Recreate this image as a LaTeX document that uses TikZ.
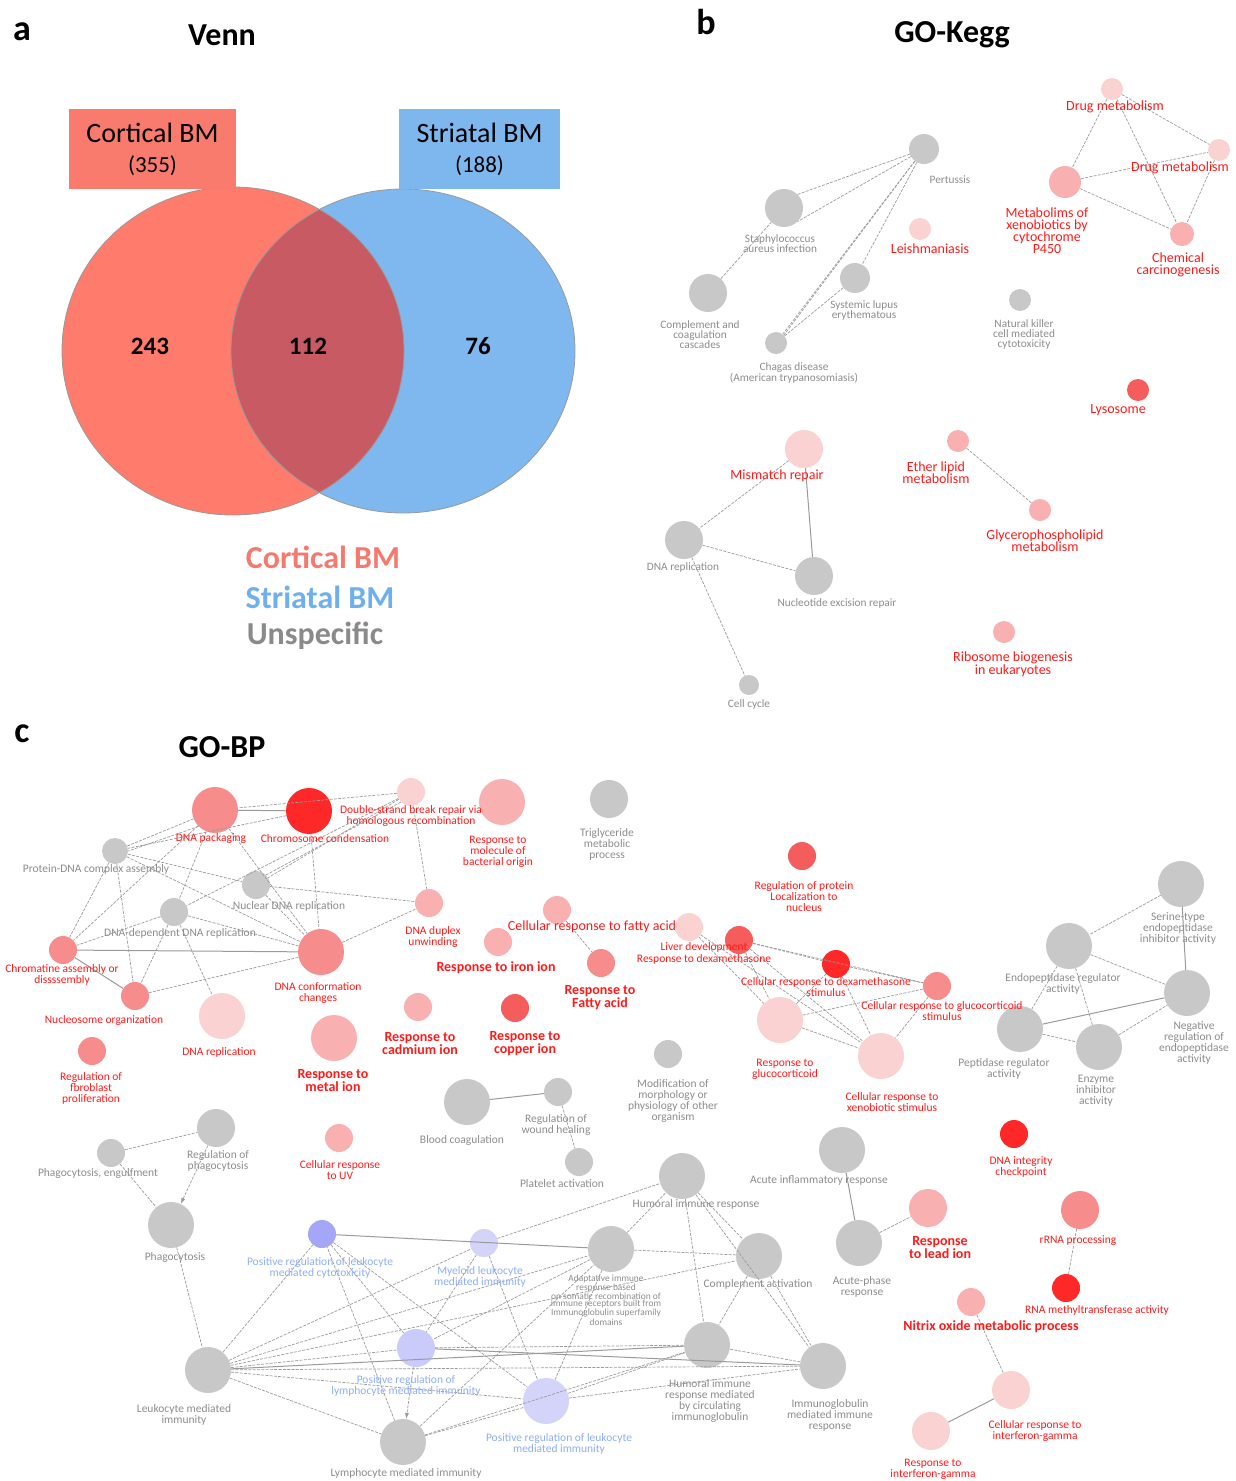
\documentclass[tikz,border=0pt]{standalone}
\usepackage{fontspec}
\setmainfont{Carlito}
\usetikzlibrary{arrows.meta}
\definecolor{vred}{HTML}{FF7B6C}
\definecolor{vblue}{HTML}{7EB8EE}
\definecolor{vmix}{HTML}{C85A64}
\definecolor{boxred}{HTML}{F97B6D}
\definecolor{boxblue}{HTML}{7EB6EE}
\definecolor{leg red}{HTML}{F47A70}
\definecolor{leg blue}{HTML}{6FB0EC}
\definecolor{leg gray}{HTML}{8A8A8A}
\definecolor{ngray}{HTML}{C8C8C8}
\definecolor{pk1}{HTML}{FAD2D2}
\definecolor{pk2}{HTML}{F8B0B0}
\definecolor{pk3}{HTML}{F68C8C}
\definecolor{pk4}{HTML}{F55C5C}
\definecolor{pk5}{HTML}{FF2828}
\definecolor{bl1}{HTML}{A4A6F8}
\definecolor{bl2}{HTML}{D4D4FA}
\definecolor{edgegray}{HTML}{9A9A9A}
\definecolor{txgray}{HTML}{8C8C8C}
\definecolor{txred}{HTML}{FF1A1A}
\definecolor{txblue}{HTML}{8CAEF5}
\begin{document}
\begin{tikzpicture}[x=1pt,y=-1pt,
  nd/.style={circle,minimum size=#1,inner sep=0pt},
  gn/.style={nd=#1,fill=ngray},
  ed/.style={draw=edgegray,line width=0.7pt,dash pattern=on 3pt off 1.3pt},
  sed/.style={draw=edgegray,line width=1pt},
  kg/.style={text=txgray,align=center,inner sep=0pt,font=\fontsize{11.3}{10}\selectfont},
  kr/.style={text=txred,align=center,inner sep=0pt,font=\fontsize{14}{12}\selectfont},
  cg/.style={text=txgray,align=center,inner sep=0pt,font=\fontsize{11.5}{11}\selectfont},
  cr/.style={text=txred,align=center,inner sep=0pt,font=\fontsize{11.5}{11}\selectfont},
  cb/.style={text=txred,align=center,inner sep=0pt,font=\bfseries\fontsize{14}{13}\selectfont},
  cbl/.style={text=txblue,align=center,inner sep=0pt,font=\fontsize{11.5}{11}\selectfont},
  panel/.style={font=\bfseries\fontsize{36}{36}\selectfont},
  ttl/.style={font=\bfseries\fontsize{32}{32}\selectfont}]
\useasboundingbox (0,0) rectangle (1236,1481);
% panel titles
\node[panel] (pa) at (22,32) {a};
\node[ttl] (ta) at (222,35) {Venn};
\node[panel] (pb) at (706,22) {b};
\node[ttl] (tb) at (952,35) {GO-Kegg};
\node[panel] (pc) at (22,734) {c};
\node[ttl] (tc) at (222,747) {GO-BP};

% a: venn
\fill[vred] (233,351) ellipse[x radius=171,y radius=164];
\fill[vblue] (403,351) ellipse[x radius=172,y radius=162];
\begin{scope}
\clip (233,351) ellipse[x radius=171,y radius=164];
\fill[vmix] (403,351) ellipse[x radius=172,y radius=162];
\end{scope}
\draw[gray!80,line width=0.8pt] (233,351) ellipse[x radius=171,y radius=164];
\draw[gray!80,line width=0.8pt] (403,351) ellipse[x radius=172,y radius=162];
\node[fill=boxred,minimum width=167,minimum height=80,align=center,inner sep=0pt,
  font=\fontsize{28}{33}\selectfont] (cbox) at (152.5,149) {Cortical BM\\[-3pt]{\fontsize{23}{24}\selectfont(355)}};
\node[fill=boxblue,minimum width=161,minimum height=80,align=center,inner sep=0pt,
  font=\fontsize{28}{33}\selectfont] (sbox) at (479.5,149) {Striatal BM\\[-3pt]{\fontsize{23}{24}\selectfont(188)}};
\node[font=\bfseries\fontsize{25}{25}\selectfont] (n243) at (150,346) {243};
\node[font=\bfseries\fontsize{25}{25}\selectfont] (n112) at (308,346) {112};
\node[font=\bfseries\fontsize{25}{25}\selectfont] (n76) at (478,346) {76};
\node[text=leg red,font=\bfseries\fontsize{32}{32}\selectfont] (lc) at (323,557) {Cortical BM};
\node[text=leg blue,font=\bfseries\fontsize{32}{32}\selectfont] (ls) at (320,597) {Striatal BM};
\node[text=leg gray,font=\bfseries\fontsize{32}{32}\selectfont] (lu) at (315,636) {Unspecific};

% b: kegg network
\node[gn=30] (pert) at (924,149) {};
\node[gn=38] (staph) at (784,208) {};
\node[gn=38] (compc) at (708,293) {};
\node[gn=30] (lupus) at (855,278) {};
\node[gn=22] (chagas) at (776,343) {};
\node[nd=22,fill=pk1] (leish) at (920,229) {};
\node[nd=22,fill=pk1] (drug1) at (1112,89) {};
\node[nd=22,fill=pk1] (drug2) at (1219,150) {};
\node[nd=32,fill=pk2] (xeno450) at (1065,182) {};
\node[nd=24,fill=pk2] (chem) at (1182,234) {};
\node[gn=22] (nkc) at (1020,300) {};
\node[nd=22,fill=pk4] (lyso) at (1138,390) {};
\node[nd=38,fill=pk1] (mism) at (804,449) {};
\node[nd=22,fill=pk2] (ether) at (958,441) {};
\node[nd=22,fill=pk2] (glyc) at (1040,510) {};
\node[gn=38] (kdrep) at (684,540) {};
\node[gn=38] (nucex) at (814,576) {};
\node[nd=22,fill=pk2] (ribo) at (1004,632) {};
\node[gn=20] (ccyc) at (749,685) {};
\draw[ed] (pert) -- (staph.north east);
\draw[ed] (pert) -- (staph.south east);
\draw[ed] (pert) -- (chagas);
\draw[ed] (pert) -- (chagas.north east);
\draw[ed] (pert) -- (lupus);
\draw[ed] (lupus) -- (chagas);
\draw[ed] (compc) -- (staph);
\draw[ed] (drug1) -- (xeno450);
\draw[ed] (drug1) -- (chem);
\draw[ed] (drug1) -- (drug2);
\draw[ed] (xeno450) -- (drug2);
\draw[ed] (xeno450) -- (chem);
\draw[ed] (drug2) -- (chem);
\draw[ed] (mism) -- (kdrep);
\draw[sed] (mism) -- (nucex);
\draw[ed] (kdrep) -- (nucex);
\draw[ed] (kdrep) -- (ccyc);
\draw[ed] (ether) -- (glyc);
\node[kg] (l-pert) at (950,180) {Pertussis};
\node[kg] (l-staph) at (780,244) {Staphylococcus\\aureus infection};
\node[kg] (l-compc) at (700,335) {Complement and\\coagulation\\cascades};
\node[kg] (l-lupus) at (864,310) {Systemic lupus\\erythematous};
\node[kg] (l-chagas) at (794,373) {Chagas disease\\(American trypanosomiasis)};
\node[kr] (l-leish) at (930,249) {Leishmaniasis};
\node[kr] (l-drug1) at (1115,107) {Drug metabolism};
\node[kr] (l-drug2) at (1180,168) {Drug metabolism};
\node[kr] (l-xeno450) at (1047,231) {Metabolims of\\xenobiotics by\\cytochrome\\P450};
\node[kr] (l-chem) at (1178,265) {Chemical\\carcinogenesis};
\node[kg] (l-nkc) at (1024,334) {Natural killer\\cell mediated\\cytotoxicity};
\node[kr] (l-lyso) at (1118,410) {Lysosome};
\node[kr] (l-mism) at (777,476) {Mismatch repair};
\node[kr] (l-ether) at (936,473) {Ether lipid\\metabolism};
\node[kr] (l-glyc) at (1045,541) {Glycerophospholipid\\metabolism};
\node[kg] (l-kdrep) at (683,567) {DNA replication};
\node[kg] (l-nucex) at (837,603) {Nucleotide excision repair};
\node[kr] (l-ribo) at (1013,664) {Ribosome biogenesis\\in eukaryotes};
\node[kg] (l-ccyc) at (749,704) {Cell cycle};

% c: biological process network
\node[nd=46,fill=pk3] (pack) at (215,810) {};
\node[nd=46,fill=pk5] (chrom) at (309,811) {};
\node[nd=28,fill=pk1] (dsb) at (411,792) {};
\node[nd=46,fill=pk2] (bact) at (502,802) {};
\node[gn=38] (trig) at (609,799) {};
\node[gn=26] (pdna) at (115,851) {};
\node[gn=28] (ndna) at (256,885) {};
\node[gn=28] (ddna) at (174,912) {};
\node[nd=28,fill=pk2] (dupl) at (429,903) {};
\node[nd=46,fill=pk3] (conf) at (321,952) {};
\node[nd=28,fill=pk3] (chrm) at (63,950) {};
\node[nd=28,fill=pk3] (nucl) at (135,996) {};
\node[nd=46,fill=pk1] (drep) at (222,1016) {};
\node[nd=28,fill=pk3] (fibro) at (92,1051) {};
\node[nd=46,fill=pk2] (metal) at (334,1038) {};
\node[nd=28,fill=pk2] (cadm) at (418,1007) {};
\node[nd=28,fill=pk4] (copp) at (515,1008) {};
\node[nd=28,fill=pk2] (iron) at (498,942) {};
\node[nd=28,fill=pk2] (cfat) at (557,910) {};
\node[nd=28,fill=pk3] (rfat) at (601,963) {};
\node[nd=28,fill=pk1] (liver) at (689,927) {};
\node[nd=28,fill=pk4] (dexa) at (739,940) {};
\node[nd=28,fill=pk4] (prot) at (802,856) {};
\node[nd=28,fill=pk5] (cdexa) at (836,964) {};
\node[nd=28,fill=pk3] (cgluc) at (937,986) {};
\node[nd=46,fill=pk1] (rgluc) at (780,1020) {};
\node[nd=46,fill=pk1] (xeno) at (881,1056) {};
\node[gn=46] (serine) at (1181,884) {};
\node[gn=46] (endo) at (1069,946) {};
\node[gn=46] (negr) at (1187,993) {};
\node[gn=46] (pept) at (1020,1029) {};
\node[gn=46] (enzy) at (1099,1047) {};
\node[gn=28] (modif) at (668,1054) {};
\node[gn=46] (blood) at (467,1102) {};
\node[gn=28] (wound) at (558,1092) {};
\node[gn=28] (plat) at (579,1162) {};
\node[gn=28] (engulf) at (111,1153) {};
\node[gn=38] (regph) at (216,1128) {};
\node[gn=46] (phago) at (171,1225) {};
\node[nd=28,fill=pk2] (uv) at (339,1138) {};
\node[gn=46] (humor) at (682,1176) {};
\node[gn=46] (acute) at (842,1150) {};
\node[nd=28,fill=pk5] (integ) at (1014,1134) {};
\node[nd=38,fill=pk2] (lead) at (928,1208) {};
\node[nd=38,fill=pk3] (rrna) at (1080,1210) {};
\node[gn=46] (aphase) at (859,1243) {};
\node[nd=28,fill=pk5] (rnam) at (1066,1288) {};
\node[nd=28,fill=pk2] (nitrix) at (971,1302) {};
\node[nd=28,fill=bl1] (cytox) at (322,1234) {};
\node[nd=28,fill=bl2] (myel) at (484,1243) {};
\node[gn=46] (adapt) at (611,1249) {};
\node[gn=46] (compl) at (759,1256) {};
\node[nd=38,fill=bl2!80!bl1] (lymreg) at (416,1348) {};
\node[gn=46] (hcirc) at (707,1345) {};
\node[gn=46] (igm) at (823,1366) {};
\node[gn=46] (leuk) at (208,1370) {};
\node[nd=46,fill=bl2] (leukreg) at (546,1401) {};
\node[gn=46] (lymph) at (403,1442) {};
\node[nd=38,fill=pk1] (cifn) at (1011,1390) {};
\node[nd=38,fill=pk1] (rifn) at (931,1431) {};

% c: connectors
\draw[sed] (pack) -- (chrom);
\draw[ed] (pack) -- (pdna);
\draw[ed] (pack.south west) -- (pdna.east);
\draw[ed] (chrom) -- (pdna);
\draw[ed] (pack) -- (conf);
\draw[ed] (pack) -- (ddna);
\draw[ed] (pack) -- (chrm);
\draw[ed] (chrom) -- (conf);
\draw[ed] (dsb) -- (ndna);
\draw[ed] (dsb.south west) -- (ndna.north east);
\draw[ed] (dsb) -- (ddna);
\draw[ed] (dsb) -- (dupl);
\draw[ed] (dsb) -- (pack);
\draw[ed] (pdna) -- (chrm);
\draw[ed] (pdna) -- (nucl);
\draw[ed] (pdna) -- (ndna);
\draw[ed] (pdna) -- (conf);
\draw[ed] (ndna) -- (dupl);
\draw[ed] (ndna) -- (conf);
\draw[ed] (ddna) -- (conf);
\draw[ed] (ddna) -- (chrm);
\draw[ed] (ddna) -- (nucl);
\draw[ed] (ddna) -- (drep);
\draw[sed] (chrm) -- (conf);
\draw[sed] (chrm) -- (nucl);
\draw[ed] (nucl) -- (conf);
\draw[ed] (conf) -- (dupl);
\draw[ed] (cfat) -- (rfat);
\draw[ed] (dexa) -- (cdexa);
\draw[ed] (dexa) -- (cgluc);
\draw[ed] (dexa) -- (rgluc);
\draw[ed] (dexa) -- (xeno);
\draw[ed] (liver) -- (rgluc);
\draw[ed] (liver) -- (xeno);
\draw[ed] (cdexa) -- (cgluc);
\draw[ed] (cdexa) -- (rgluc);
\draw[ed] (cdexa) -- (xeno);
\draw[ed] (cgluc) -- (rgluc);
\draw[ed] (cgluc) -- (xeno);
\draw[ed] (rgluc) -- (xeno);
\draw[ed] (serine) -- (endo);
\draw[sed] (serine) -- (negr);
\draw[ed] (endo) -- (negr);
\draw[ed] (endo) -- (pept);
\draw[ed] (endo) -- (enzy);
\draw[sed] (pept) -- (negr);
\draw[ed] (pept) -- (enzy);
\draw[ed] (enzy) -- (negr);
\draw[sed] (blood) -- (wound);
\draw[ed] (wound) -- (plat);
\draw[ed] (engulf) -- (regph);
\draw[ed] (engulf) -- (phago);
\draw[ed,-{Latex[length=6pt,width=4pt]}] (regph) -- (phago);
\draw[ed] (phago) -- (leuk);
\draw[sed] (acute) -- (aphase);
\draw[ed] (aphase) -- (lead);
\draw[ed] (rrna) -- (rnam);
\draw[ed] (nitrix) -- (cifn);
\draw[sed] (cifn) -- (rifn);
\draw[ed] (leuk) -- (lymph);
\draw[ed] (leuk) -- (cytox);
\draw[ed] (leuk) -- (myel);
\draw[ed] (leuk) -- (adapt);
\draw[ed] (leuk) -- (lymreg);
\draw[ed] (leuk) -- (leukreg);
\draw[sed] (leuk) -- (hcirc);
\draw[ed] (leuk) -- (igm);
\draw[ed] (leuk) -- (compl);
\draw[ed,-{Latex[length=6pt,width=4pt]}] (lymreg) -- (lymph);
\draw[ed] (lymph) -- (adapt);
\draw[ed] (lymph) -- (leukreg);
\draw[ed] (lymph) -- (hcirc);
\draw[ed] (lymph) -- (cytox);
\draw[sed] (cytox) -- (adapt);
\draw[ed] (cytox) -- (leukreg);
\draw[ed] (cytox) -- (lymreg);
\draw[ed] (myel) -- (humor);
\draw[ed] (myel) -- (lymreg);
\draw[ed] (myel) -- (leukreg);
\draw[ed] (adapt) -- (compl);
\draw[ed] (adapt) -- (humor);
\draw[ed] (adapt) -- (lymreg);
\draw[ed] (adapt) -- (leukreg);
\draw[ed] (humor) -- (compl);
\draw[ed] (humor) -- (hcirc);
\draw[ed] (humor) -- (igm);
\draw[ed] (compl) -- (hcirc);
\draw[ed] (compl) -- (igm);
\draw[ed] (hcirc) -- (igm);
\draw[sed] (lymreg) -- (igm);
\draw[ed] (lymreg) -- (hcirc);
\draw[ed] (leukreg) -- (hcirc);
\draw[ed] (leukreg) -- (igm);

% c: labels
\node[cr] (l-pack) at (211,838) {DNA packaging};
\node[cr] (l-chrom) at (325,839) {Chromosome condensation};
\node[cr] (l-dsb) at (411,816) {Double-strand break repair via\\homologous recombination};
\node[cr] (l-bact) at (498,852) {Response to\\molecule of\\bacterial origin};
\node[cg] (l-trig) at (607,844) {Triglyceride\\metabolic\\process};
\node[cg] (l-pdna) at (96,869) {Protein-DNA complex assembly};
\node[cg] (l-ndna) at (289,906) {Nuclear DNA replication};
\node[cg] (l-ddna) at (180,933) {DNA-dependent DNA replication};
\node[cr] (l-dupl) at (433,937) {DNA duplex\\unwinding};
\node[cr] (l-conf) at (318,993) {DNA conformation\\changes};
\node[cr] (l-chrm) at (62,975) {Chromatine assembly or\\dissssembly};
\node[cr] (l-nucl) at (104,1020) {Nucleosome organization};
\node[cr] (l-drep) at (219,1052) {DNA replication};
\node[cr] (l-fibro) at (91,1088) {Regulation of\\fbroblast\\proliferation};
\node[cb] (l-metal) at (333,1080) {Response to\\metal ion};
\node[cb] (l-cadm) at (420,1043) {Response to\\cadmium ion};
\node[cb] (l-copp) at (525,1044) {Response to\\copper ion};
\node[cb] (l-iron) at (496,968) {Response to iron ion};
\node[cr,font=\fontsize{14}{14}\selectfont] (l-cfat) at (592,927) {Cellular response to fatty acid};
\node[cb] (l-rfat) at (600,998) {Response to\\Fatty acid};
\node[cr] (l-liver) at (704,947) {Liver development};
\node[cr] (l-dexa) at (704,959) {Response to dexamethasone};
\node[cr] (l-prot) at (804,897) {Regulation of protein\\Localization to\\nucleus};
\node[cr] (l-cdexa) at (826,987) {Cellular response to dexamethasone\\stimulus};
\node[cr] (l-cgluc) at (942,1011) {Cellular response to glucocorticoid\\stimulus};
\node[cr] (l-rgluc) at (785,1069) {Response to\\glucocorticoid};
\node[cr] (l-xeno) at (892,1102) {Cellular response to\\xenobiotic stimulus};
\node[cg] (l-serine) at (1178,928) {Serine-type\\endopeptidase\\inhibitor activity};
\node[cg] (l-endo) at (1063,984) {Endopeptidase regulator\\activity};
\node[cg] (l-negr) at (1194,1043) {Negative\\regulation of\\endopeptidase\\activity};
\node[cg] (l-pept) at (1004,1069) {Peptidase regulator\\activity};
\node[cg] (l-enzy) at (1096,1091) {Enzyme\\inhibitor\\activity};
\node[cg] (l-modif) at (673,1101) {Modification of\\morphology or\\physiology of other\\organism};
\node[cg] (l-blood) at (462,1140) {Blood coagulation};
\node[cg] (l-wound) at (556,1125) {Regulation of\\wound healing};
\node[cg] (l-plat) at (562,1184) {Platelet activation};
\node[cg] (l-engulf) at (98,1173) {Phagocytosis, engulfment};
\node[cg] (l-regph) at (218,1161) {Regulation of\\phagocytosis};
\node[cg] (l-phago) at (175,1257) {Phagocytosis};
\node[cr] (l-uv) at (340,1170) {Cellular response\\to UV};
\node[cg] (l-humor) at (696,1204) {Humoral immune response};
\node[cg] (l-acute) at (819,1180) {Acute inflammatory response};
\node[cr] (l-integ) at (1021,1167) {DNA integrity\\checkpoint};
\node[cb] (l-lead) at (940,1247) {Response\\to lead ion};
\node[cr] (l-rrna) at (1078,1241) {rRNA processing};
\node[cg] (l-aphase) at (862,1287) {Acute-phase\\response};
\node[cr] (l-rnam) at (1097,1310) {RNA methyltransferase activity};
\node[cb] (l-nitrix) at (991,1327) {Nitrix oxide metabolic process};
\node[cbl] (l-cytox) at (320,1268) {Positive regulation of leukocyte\\mediated cytotoxicity};
\node[cbl] (l-myel) at (480,1277) {Myeloid leukocyte\\mediated immunity};
\node[cg,font=\fontsize{9.4}{7.4}\selectfont] (l-adapt) at (606,1300) {Adaptative immune\\response based\\on somatic recombination of\\immune receptors built from\\Immunoglobulin superfamily\\domains};
\node[cg] (l-compl) at (758,1284) {Complement activation};
\node[cbl] (l-lymreg) at (406,1386) {Positive regulation of\\lymphocyte mediated immunity};
\node[cg] (l-hcirc) at (710,1401) {Humoral immune\\response mediated\\by circulating\\immunoglobulin};
\node[cg] (l-igm) at (830,1415) {Immunoglobulin\\mediated immune\\response};
\node[cg] (l-leuk) at (184,1415) {Leukocyte mediated\\immunity};
\node[cbl] (l-leukreg) at (559,1444) {Positive regulation of leukocyte\\mediated immunity};
\node[cg] (l-lymph) at (406,1473) {Lymphocyte mediated immunity};
\node[cr] (l-cifn) at (1035,1431) {Cellular response to\\interferon-gamma};
\node[cr] (l-rifn) at (933,1469) {Response to\\interferon-gamma};
\end{tikzpicture}
\end{document}
